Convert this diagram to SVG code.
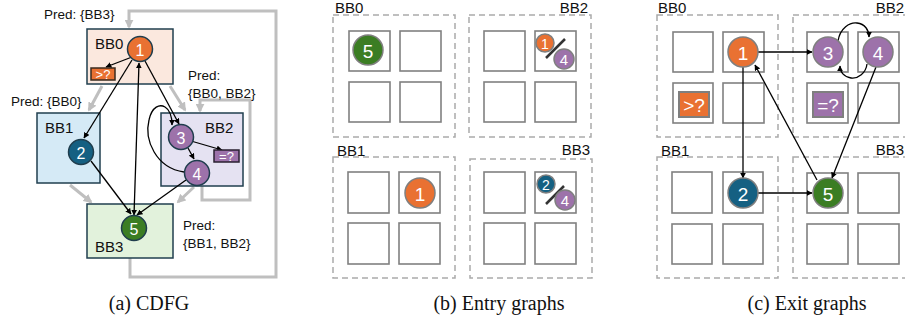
<svg xmlns="http://www.w3.org/2000/svg" width="905" height="326" viewBox="0 0 905 326">
<defs>
<marker id="ah" viewBox="0 0 10 10" refX="9" refY="5" markerWidth="6" markerHeight="6" orient="auto-start-reverse" markerUnits="userSpaceOnUse">
<path d="M0,0 L10,5 L0,10 z" fill="#000"/>
</marker>
<marker id="gh" viewBox="0 0 10 10" refX="8" refY="5" markerWidth="9" markerHeight="9" orient="auto" markerUnits="userSpaceOnUse">
<path d="M0,0 L10,5 L0,10 z" fill="#bfbfbf"/>
</marker>
<style>
text{font-family:"Liberation Sans",Arial,sans-serif;}
.lbl{font-size:15px;fill:#111;}
.pred{font-size:13.5px;fill:#111;}
.num{font-size:16px;fill:#fff;text-anchor:middle;dominant-baseline:central;}
.big{font-size:19px;}
.snum{font-size:13px;fill:#fff;text-anchor:middle;dominant-baseline:central;}
.bb{stroke:#203f4f;stroke-width:1.5;}
.cn{stroke:#1f3d4d;stroke-width:1.5;}
.gn{stroke:#7f7f7f;stroke-width:1.5;}
.g{fill:none;stroke:#bfbfbf;stroke-width:3;}
.blk{fill:none;stroke:#000;stroke-width:1.3;}
.dash{fill:none;stroke:#aaaaaa;stroke-width:1.5;stroke-dasharray:6,4;}
.cell{fill:#fff;stroke:#808080;stroke-width:1.6;}
.cap{font-family:"Liberation Serif","Times New Roman",serif;font-size:20px;fill:#111;}
.or{fill:#e97132;}.bl{fill:#156082;}.pu{fill:#9d72aa;}.gr{fill:#3b7d23;}
</style>
</defs>

<!-- ===== (a) CDFG ===== -->
<g id="a-connectors-gray">
<path class="g" d="M130,258 V277 H276 V11 H129 V27" marker-end="url(#gh)"/>
<path class="g" d="M202,186 V200 H250 V100 H200 V111" marker-end="url(#gh)"/>
<path class="g" d="M102,86 L89,110" marker-end="url(#gh)"/>
<path class="g" d="M170,86 L185,110" marker-end="url(#gh)"/>
<path class="g" d="M70,185 L91,202" marker-end="url(#gh)"/>
<path class="g" d="M194,187 L178,202" marker-end="url(#gh)"/>
</g>
<g id="a-BB0"><rect class="bb" x="87" y="29" width="86" height="55" fill="#fbe8de"/><text class="lbl" x="95" y="49">BB0</text></g>
<g id="a-BB1"><rect class="bb" x="37" y="113" width="63" height="70" fill="#d5eaf6"/><text class="lbl" x="45" y="133">BB1</text></g>
<g id="a-BB2"><rect class="bb" x="161" y="113" width="82" height="73" fill="#e5e2f2"/><text class="lbl" x="205" y="133">BB2</text></g>
<g id="a-BB3"><rect class="bb" x="87" y="204" width="86" height="54" fill="#e2f2dc"/><text class="lbl" x="95" y="252">BB3</text></g>
<g id="a-pred">
<text class="pred" x="44" y="19">Pred: {BB3}</text>
<text class="pred" x="11" y="106">Pred: {BB0}</text>
<text class="pred" x="188" y="80">Pred:</text>
<text class="pred" x="188" y="98">{BB0, BB2}</text>
<text class="pred" x="183" y="230">Pred:</text>
<text class="pred" x="183" y="248">{BB1, BB2}</text>
</g>
<g id="a-connectors">
<path class="blk" d="M132,57 L106,67" marker-end="url(#ah)"/>
<path class="blk" d="M132,60 L84,138" marker-end="url(#ah)"/>
<path class="blk" d="M139,63 L134,215" marker-start="url(#ah)" marker-end="url(#ah)"/>
<path class="blk" d="M145,61 L179,124" marker-end="url(#ah)"/>
<path class="blk" d="M91,161 L131,214" marker-end="url(#ah)"/>
<path class="blk" d="M186,180 L137,215" marker-end="url(#ah)"/>
<path class="blk" d="M191,141 L222,150" marker-end="url(#ah)"/>
<path class="blk" d="M188,148 L194,159" marker-end="url(#ah)"/>
<path class="blk" d="M184,172 C156,168 144,140 149,120 C152,106 160,104 165,107 C170,110 172,117 172,125" marker-end="url(#ah)"/>
</g>
<g id="a-n1"><circle class="cn or" cx="140" cy="49" r="12.5"/><text class="num" x="140" y="50">1</text></g>
<g id="a-cmp0"><rect x="91" y="68" width="24" height="12" class="or" stroke="#3a2a1e" stroke-width="1.5"/><text class="snum" x="103" y="74">&gt;?</text></g>
<g id="a-n2"><circle class="cn bl" cx="81" cy="152" r="12.5"/><text class="num" x="81" y="153">2</text></g>
<g id="a-n3"><circle class="cn pu" cx="181" cy="137" r="12.5"/><text class="num" x="181" y="138">3</text></g>
<g id="a-n4"><circle class="cn pu" cx="197" cy="173" r="12.5"/><text class="num" x="197" y="174">4</text></g>
<g id="a-cmp2"><rect x="214" y="150" width="25" height="12" class="pu" stroke="#2a2030" stroke-width="1.5"/><text class="snum" x="226.5" y="156">=?</text></g>
<g id="a-n5"><circle class="cn gr" cx="134" cy="228" r="12.5"/><text class="num" x="134" y="229">5</text></g>

<!-- ===== (b) Entry graphs ===== -->
<g id="b-BB0">
<rect class="dash" x="333" y="15" width="122" height="122"/>
<text class="lbl" x="335" y="13">BB0</text>
<rect class="cell" x="349" y="31" width="41" height="40"/><rect class="cell" x="400" y="31" width="41" height="40"/>
<rect class="cell" x="349" y="82" width="41" height="40"/><rect class="cell" x="400" y="82" width="41" height="40"/>
<circle class="gn gr" cx="368" cy="50" r="15"/><text class="num big" x="368" y="51">5</text>
</g>
<g id="b-BB2">
<rect class="dash" x="469" y="15" width="122" height="122"/>
<text class="lbl" x="588" y="13" text-anchor="end">BB2</text>
<rect class="cell" x="484" y="31" width="41" height="40"/><rect class="cell" x="535" y="31" width="41" height="40"/>
<rect class="cell" x="484" y="82" width="41" height="40"/><rect class="cell" x="535" y="82" width="41" height="40"/>
<line x1="546" y1="58" x2="565" y2="39" stroke="#333" stroke-width="2.5"/>
<circle class="gn or" cx="545" cy="43" r="9"/><text class="snum" x="545" y="43.5" style="font-size:14px">1</text>
<circle class="gn pu" cx="564" cy="59" r="10"/><text class="snum" x="564" y="59.5" style="font-size:15px">4</text>
</g>
<g id="b-BB1">
<rect class="dash" x="333" y="157" width="122" height="121"/>
<text class="lbl" x="337" y="156">BB1</text>
<rect class="cell" x="348" y="172" width="41" height="41"/><rect class="cell" x="399" y="172" width="41" height="41"/>
<rect class="cell" x="348" y="223" width="41" height="41"/><rect class="cell" x="399" y="223" width="41" height="41"/>
<circle class="gn or" cx="420" cy="193" r="15"/><text class="num big" x="420" y="194">1</text>
</g>
<g id="b-BB3">
<rect class="dash" x="470" y="159" width="122" height="119"/>
<text class="lbl" x="590" y="155" text-anchor="end">BB3</text>
<rect class="cell" x="484" y="172" width="41" height="41"/><rect class="cell" x="535" y="172" width="41" height="41"/>
<rect class="cell" x="484" y="223" width="41" height="41"/><rect class="cell" x="535" y="223" width="41" height="41"/>
<line x1="546" y1="204" x2="564" y2="186" stroke="#333" stroke-width="2.5"/>
<circle class="gn bl" cx="546" cy="184" r="9"/><text class="snum" x="546" y="184.5" style="font-size:14px">2</text>
<circle class="gn pu" cx="565" cy="200" r="10"/><text class="snum" x="565" y="200.5" style="font-size:15px">4</text>
</g>

<!-- ===== (c) Exit graphs ===== -->
<g id="c-BB0">
<rect class="dash" x="657" y="15" width="121" height="122"/>
<text class="lbl" x="658" y="13">BB0</text>
<rect class="cell" x="673" y="32" width="40" height="40"/><rect class="cell" x="723" y="32" width="41" height="40"/>
<rect class="cell" x="673" y="83" width="40" height="40"/><rect class="cell" x="723" y="83" width="41" height="40"/>
<rect x="679" y="92" width="30" height="25" class="or" stroke="#7f7f7f" stroke-width="2"/><text class="num big" x="694" y="105">&gt;?</text>
</g>
<g id="c-BB2">
<rect class="dash" x="793" y="15" width="122" height="122"/>
<text class="lbl" x="904" y="13" text-anchor="end">BB2</text>
<rect class="cell" x="807" y="32" width="41" height="40"/><rect class="cell" x="858" y="32" width="41" height="40"/>
<rect class="cell" x="807" y="83" width="41" height="40"/><rect class="cell" x="858" y="83" width="41" height="40"/>
<rect x="813" y="92" width="30" height="25" class="pu" stroke="#7f7f7f" stroke-width="2"/><text class="num big" x="828" y="105">=?</text>
</g>
<g id="c-BB1">
<rect class="dash" x="657" y="157" width="121" height="121"/>
<text class="lbl" x="661" y="156">BB1</text>
<rect class="cell" x="672" y="172" width="40" height="41"/><rect class="cell" x="723" y="172" width="40" height="41"/>
<rect class="cell" x="672" y="224" width="40" height="40"/><rect class="cell" x="723" y="224" width="40" height="40"/>
</g>
<g id="c-BB3">
<rect class="dash" x="793" y="157" width="122" height="121"/>
<text class="lbl" x="904" y="155" text-anchor="end">BB3</text>
<rect class="cell" x="807" y="173" width="41" height="40"/><rect class="cell" x="858" y="173" width="41" height="40"/>
<rect class="cell" x="807" y="224" width="41" height="40"/><rect class="cell" x="858" y="224" width="41" height="40"/>
</g>
<g id="c-connectors">
<path class="blk" d="M758,52 L812,52" marker-end="url(#ah)"/>
<path class="blk" d="M743,67 L743,178" marker-end="url(#ah)"/>
<path class="blk" d="M758,193 L812,193" marker-end="url(#ah)"/>
<path class="blk" d="M817,180 L755,65" marker-end="url(#ah)"/>
<path class="blk" d="M876,67 L832,178" marker-end="url(#ah)"/>
<path class="blk" d="M838,41 C840,28 850,22 857,23 C865,24 869,30 869,37" marker-end="url(#ah)"/>
<path class="blk" d="M867,64 C866,73 858,79 851,78 C844,77 840,72 840,66" marker-end="url(#ah)"/>
</g>
<g id="c-n1"><circle class="gn or" cx="743" cy="52" r="15"/><text class="num big" x="743" y="53">1</text></g>
<g id="c-n3"><circle class="gn pu" cx="828" cy="52" r="15"/><text class="num big" x="828" y="53">3</text></g>
<g id="c-n4"><circle class="gn pu" cx="878" cy="52" r="15"/><text class="num big" x="878" y="53">4</text></g>
<g id="c-n2"><circle class="gn bl" cx="743" cy="193" r="15"/><text class="num big" x="743" y="194">2</text></g>
<g id="c-n5"><circle class="gn gr" cx="828" cy="193" r="15"/><text class="num big" x="828" y="194">5</text></g>

<g id="captions">
<text class="cap" x="149" y="310" text-anchor="middle">(a) CDFG</text>
<text class="cap" x="499" y="310" text-anchor="middle">(b) Entry graphs</text>
<text class="cap" x="807" y="310" text-anchor="middle">(c) Exit graphs</text>
</g>
</svg>
